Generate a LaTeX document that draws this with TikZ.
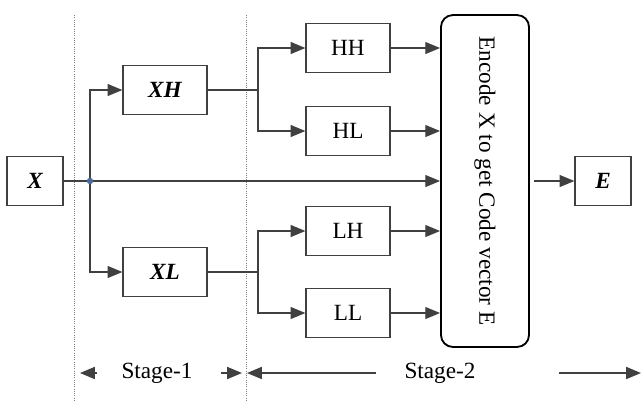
\documentclass[tikz,border=0pt]{standalone}
\usepackage{fontspec}
\setmainfont{Liberation Serif}
\usetikzlibrary{arrows.meta, positioning, shapes.geometric}

\definecolor{linegray}{HTML}{404040}
\definecolor{dotblue}{HTML}{4A6A9A}

\newcommand{\diafont}{\fontsize{16.5}{19}\selectfont}

\tikzset{
  blk/.style={draw=linegray, line width=0.9pt, rectangle, minimum width=59.7pt, minimum height=35pt, inner sep=0pt},
  sigblk/.style={blk, font=\diafont\bfseries\itshape},
  sigbox/.style={sigblk, minimum width=39.8pt},
  encbox/.style={draw=black, line width=1.3pt, rectangle, rounded corners=8.5pt, minimum width=62.6pt, minimum height=236pt, inner sep=0pt},
  wire/.style={draw=linegray, line width=0.9pt},
  arr/.style={wire, -{Triangle[length=10.5pt, width=8.5pt]}},
  sep/.style={draw=gray, densely dotted, line width=0.6pt},
}

\begin{document}
\begin{tikzpicture}[x=0.711pt, y=-0.711pt, font=\diafont]
        \useasboundingbox (0,0) rectangle (641,401);
        % stage separators
        \draw[sep] (74,15) -- (74,401);
        \draw[sep] (246,15) -- (246,401);
        % blocks
        \node[sigbox] (X) at (35,181) {X};
        \node[sigblk] (XH) at (165,90) {XH};
        \node[sigblk] (XL) at (165,272) {XL};
        \node[blk] (HH) at (348,48) {HH};
        \node[blk] (HL) at (348,131) {HL};
        \node[blk] (LH) at (348,231) {LH};
        \node[blk] (LL) at (348,313) {LL};
        \node[encbox] (enc) at (485,181) {};
        \node[rotate=-90] (enctxt) at (enc) {Encode X to get Code vector E};
        \node[sigbox] (E) at (603,181) {E};
        % branch points
        \coordinate (j) at (90,181);
        \coordinate (bH) at (258,90);
        \coordinate (bL) at (258,272);
        % connectors
        \draw[arr] (X.east) -- (X.east -| enc.west);
        \draw[arr] (j) |- (XH.west);
        \draw[arr] (j) |- (XL.west);
        \fill[dotblue] (j) circle (3.2);
        \draw[wire] (XH.east) -- (bH);
        \draw[wire, line width=1.3pt] (XL.east) -- (bL);
        \draw[arr] (bH) |- (HH.west);
        \draw[arr] (bH) |- (HL.west);
        \draw[arr] (bL) |- (LH.west);
        \draw[arr] (bL) |- (LL.west);
        \foreach \b in {HH,HL,LH,LL}
          \draw[arr] (\b.east) -- (\b.east -| enc.west);
        \draw[arr] ([xshift=3]enc.east) -- (E.west);
        % stages
        \node (s1) at (157,373) {Stage-1};
        \node (s2) at (440,373) {Stage-2};
        \coordinate (st1L) at (80,373);
        \coordinate (st1R) at (242,373);
        \coordinate (st2L) at (247,373);
        \coordinate (st2R) at (641,373);
        \draw[arr, line width=1.1pt] ([xshift=-14]s1.west) -- (st1L);
        \draw[arr, line width=1.1pt] ([xshift=17]s1.east) -- (st1R);
        \draw[arr, line width=1.1pt] ([xshift=-17]s2.west) -- (st2L);
        \draw[arr, line width=1.1pt] ([xshift=56]s2.east) -- (st2R);
\end{tikzpicture}
\end{document}
